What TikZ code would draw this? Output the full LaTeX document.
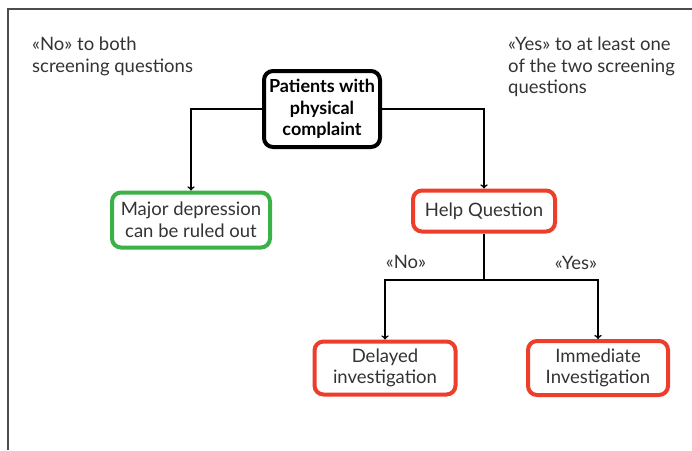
\documentclass[tikz,border=0pt]{standalone}
\usepackage{fontspec}
\setmainfont{Lato}
\definecolor{okgreen}{RGB}{58,178,72}
\definecolor{alertred}{RGB}{236,62,42}
\definecolor{inkgray}{RGB}{51,51,51}
\tikzset{
  box/.style={rectangle, rounded corners=9pt, line width=4pt, fill=white, align=center,
    inner sep=2pt, text=inkgray, font=\fontsize{18.5}{21.5}\selectfont},
  note/.style={anchor=north west, align=left, inner sep=0pt, text=inkgray,
    font=\fontsize{18.5}{21.5}\selectfont},
  answer/.style={inner sep=0pt, text=inkgray, font=\fontsize{18.5}{21.5}\selectfont},
  link/.style={line width=1.6pt, black},
  arrow/.style={link, ->}
}
\begin{document}
\begin{tikzpicture}[x=1pt,y=-1pt]
\useasboundingbox (0,0) rectangle (692,450);
\draw[black!70, line width=1.6pt] (8,450) -- (8,9) -- (692,9);
% screening answers
\draw (32,37) node(nobothnote) [note] {«No» to both\\screening questions};
\draw (508,37) node(yesonenote) [note] {«Yes» to at least one\\of the two screening\\questions};
% boxes
\draw (322,109) node(patients) [box, draw=black, minimum width=116pt, minimum height=76pt,
  font=\fontsize{18}{21.5}\selectfont\bfseries, text=black] {Patients with\\physical\\complaint};
\draw (191,220) node(ruledout) [box, draw=okgreen, minimum width=158pt, minimum height=55pt] {Major depression\\can be ruled out};
\draw (484,211) node(helpq) [box, draw=alertred, minimum width=142pt, minimum height=41pt] {Help Question};
\draw (385,368) node(delayed) [box, draw=alertred, minimum width=141pt, minimum height=53pt] {Delayed\\investigation};
\draw (598,368) node(immediate) [box, draw=alertred, minimum width=140pt, minimum height=54pt] {Immediate\\Investigation};
% connectors
\draw[arrow] (patients.west) -| (ruledout.north);
\draw[arrow] (patients.east) -| (helpq.north);
\coordinate (split) at (484,280);
\draw[link] (helpq.south) -- (split);
\draw[arrow] (split) -| (delayed.north);
\draw[arrow] (split) -| (immediate.north);
\draw (406,262) node(nolabel) [answer] {«No»};
\draw (576,263) node(yeslabel) [answer] {«Yes»};
\end{tikzpicture}
\end{document}
